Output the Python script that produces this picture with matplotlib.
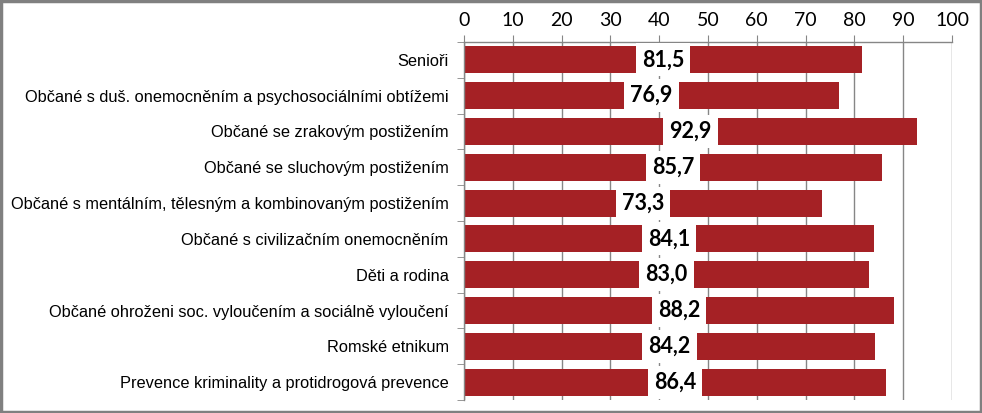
import matplotlib
matplotlib.use("Agg")
import matplotlib.pyplot as plt
from matplotlib.patches import Rectangle

categories = [
    "Senioři",
    "Občané s duš. onemocněním a psychosociálními obtížemi",
    "Občané se zrakovým postižením",
    "Občané se sluchovým postižením",
    "Občané s mentálním, tělesným a kombinovaným postižením",
    "Občané s civilizačním onemocněním",
    "Děti a rodina",
    "Občané ohroženi soc. vyloučením a sociálně vyloučení",
    "Romské etnikum",
    "Prevence kriminality a protidrogová prevence",
]
values = [81.5, 76.9, 92.9, 85.7, 73.3, 84.1, 83.0, 88.2, 84.2, 86.4]
ticks = [0, 10, 20, 30, 40, 50, 60, 70, 80, 90, 100]

bar_color = "#A52125"
grid_color = "#868686"

fig = plt.figure(figsize=(9.82, 4.13), dpi=100)
ax = fig.add_axes([464/982, 1 - 400/413, (952-464)/982, (400-42)/413])

y = list(range(len(categories)))
ax.barh(y, values, height=0.75, color=bar_color, zorder=2)
ax.set_ylim(len(categories) - 0.5, -0.5)
ax.set_xlim(0, 100)

ax.xaxis.tick_top()
ax.set_xticks(ticks)
ax.set_xticklabels([str(t) for t in ticks], family="Lato", fontsize=14, color="#000000")
ax.tick_params(axis="x", direction="out", length=5, color=grid_color, pad=4)
ax.xaxis.grid(True, color=grid_color, linewidth=1, zorder=0)

ax.set_yticks(y)
ax.set_yticklabels(categories, family="Liberation Sans", fontsize=11.8)
ax.tick_params(axis="y", length=0, pad=11)
# category boundary ticks
ax.set_yticks([i - 0.5 for i in range(len(categories) + 1)], minor=True)
ax.tick_params(axis="y", which="minor", length=5, color=grid_color, direction="out")

for s in ["right", "bottom"]:
    ax.spines[s].set_visible(False)
for s in ["top", "left"]:
    ax.spines[s].set_color(grid_color)
    ax.spines[s].set_linewidth(1)

for yi, v in zip(y, values):
    ax.text(v / 2, yi, f"{v:.1f}".replace(".", ","), ha="center", va="center",
            family="Lato", fontweight="bold", fontsize=15.5, zorder=3,
            bbox=dict(boxstyle="square,pad=0.28", facecolor="white", edgecolor="none"))

fig.patches.append(Rectangle((0.0015, 0.003), 0.997, 0.994, transform=fig.transFigure,
                             fill=False, edgecolor="#808080", linewidth=2.5))

fig.savefig("out.png", dpi=100)
